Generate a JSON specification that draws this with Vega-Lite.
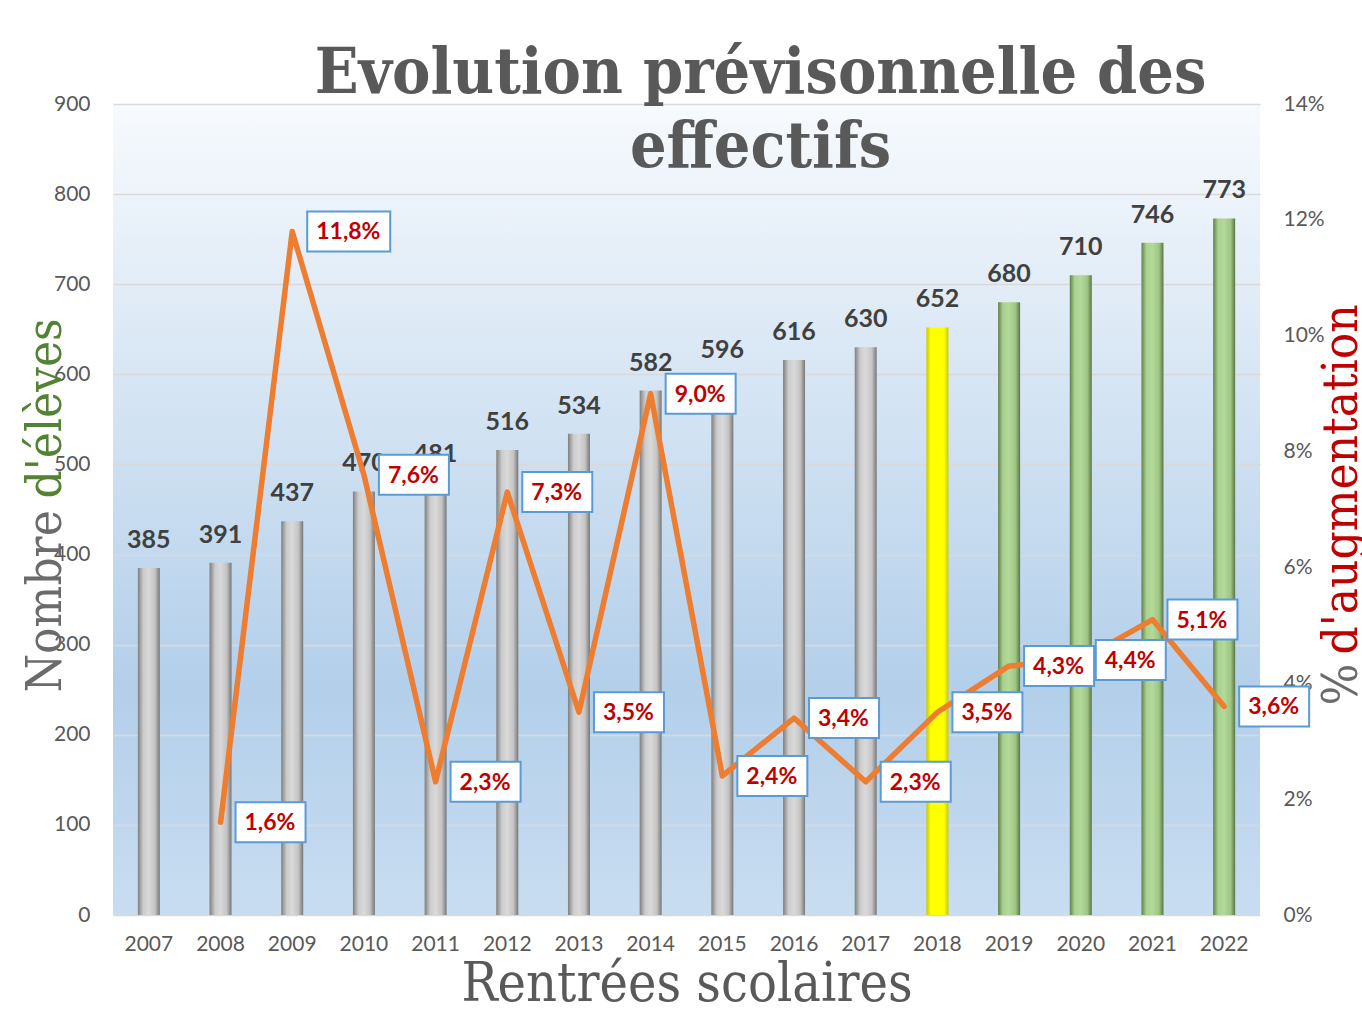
{
  "$schema": "https://vega.github.io/schema/vega-lite/v6.json",
  "autosize": "none",
  "width": 1147,
  "height": 811,
  "padding": {"left": 113, "top": 104, "right": 102, "bottom": 95},
  "background": "white",
  "config": {
    "locale": {"number": {"decimal": ",", "thousands": " ", "grouping": [3], "currency": ["", " €"]}},
    "view": {"stroke": null},
    "axis": {"labelFont": "Lato", "labelColor": "#595959", "labelFontSize": 21, "ticks": false, "domain": false}
  },
  "view": {
    "stroke": null,
    "fill": {"gradient": "linear", "x1": 0, "y1": 0, "x2": 0, "y2": 1,
      "stops": [{"offset": 0, "color": "#f7fafd"}, {"offset": 0.72, "color": "#b3cfea"}, {"offset": 1, "color": "#c8ddf1"}]}
  },
  "title": {
    "text": ["Evolution prévisonnelle des", "effectifs"],
    "font": "DejaVu Serif Condensed",
    "fontWeight": "bold",
    "fontSize": 64,
    "lineHeight": 74,
    "color": "#595959",
    "anchor": "middle",
    "offset": 0,
    "dx": 74,
    "dy": 87
  },
  "data": {"values": [
    {"year": 2007, "count": 385, "pct": null},
    {"year": 2008, "count": 391, "pct": 0.016},
    {"year": 2009, "count": 437, "pct": 0.118},
    {"year": 2010, "count": 470, "pct": 0.076},
    {"year": 2011, "count": 481, "pct": 0.023},
    {"year": 2012, "count": 516, "pct": 0.073},
    {"year": 2013, "count": 534, "pct": 0.035},
    {"year": 2014, "count": 582, "pct": 0.090},
    {"year": 2015, "count": 596, "pct": 0.024},
    {"year": 2016, "count": 616, "pct": 0.034},
    {"year": 2017, "count": 630, "pct": 0.023},
    {"year": 2018, "count": 652, "pct": 0.035},
    {"year": 2019, "count": 680, "pct": 0.043},
    {"year": 2020, "count": 710, "pct": 0.044},
    {"year": 2021, "count": 746, "pct": 0.051},
    {"year": 2022, "count": 773, "pct": 0.036}
  ]},
  "encoding": {
    "x": {
      "field": "year", "type": "ordinal",
      "scale": {"paddingInner": 0, "paddingOuter": 0},
      "axis": {
        "labelAngle": 0, "labelPadding": 18, "grid": false,
        "title": "Rentrées scolaires",
        "titleFont": "DejaVu Serif Condensed", "titleFontWeight": "normal", "titleFontSize": 53.5,
        "titleColor": "#595959", "titleBaseline": "alphabetic", "titleY": 85
      }
    }
  },
  "layer": [
    {
      "transform": [{"filter": "datum.year <= 2017"}],
      "mark": {"type": "bar", "size": 22,
        "color": {"gradient": "linear", "x1": 0, "y1": 0, "x2": 1, "y2": 0,
          "stops": [{"offset": 0, "color": "#7f7f7f"}, {"offset": 0.25, "color": "#cccccc"}, {"offset": 0.5, "color": "#d9d9d9"}, {"offset": 0.78, "color": "#c4c4c4"}, {"offset": 1, "color": "#777777"}]}},
      "encoding": {
        "y": {
          "field": "count", "type": "quantitative",
          "scale": {"domain": [0, 900]},
          "axis": {
            "orient": "left", "values": [0, 100, 200, 300, 400, 500, 600, 700, 800, 900],
            "grid": true, "gridColor": "#d9d9d9", "gridWidth": 1.5, "labelPadding": 23,
            "title": "d'élèves", "titleColor": "#548235",
            "titleFont": "DejaVu Serif Condensed", "titleFontWeight": "normal", "titleFontSize": 49,
            "titleAngle": -90, "titleAlign": "left", "titleBaseline": "alphabetic",
            "titleX": -53, "titleY": 394
          }
        }
      }
    },
    {
      "transform": [{"filter": "datum.year == 2018"}],
      "mark": {"type": "bar", "size": 22,
        "color": {"gradient": "linear", "x1": 0, "y1": 0, "x2": 1, "y2": 0,
          "stops": [{"offset": 0, "color": "#c9c900"}, {"offset": 0.2, "color": "#ffff00"}, {"offset": 0.8, "color": "#ffff00"}, {"offset": 1, "color": "#c9c900"}]}},
      "encoding": {
        "y": {"field": "count", "type": "quantitative", "scale": {"domain": [0, 900]}, "axis": null}
      }
    },
    {
      "transform": [{"filter": "datum.year >= 2019"}],
      "mark": {"type": "bar", "size": 22,
        "color": {"gradient": "linear", "x1": 0, "y1": 0, "x2": 1, "y2": 0,
          "stops": [{"offset": 0, "color": "#637f4c"}, {"offset": 0.22, "color": "#a9d18e"}, {"offset": 0.5, "color": "#b4d99b"}, {"offset": 0.8, "color": "#9dc582"}, {"offset": 1, "color": "#5a7445"}]}},
      "encoding": {
        "y": {"field": "count", "type": "quantitative", "scale": {"domain": [0, 900]}, "axis": null}
      }
    },
    {
      "mark": {"type": "text", "font": "Lato", "fontWeight": "bold", "fontSize": 25, "color": "#404040", "baseline": "alphabetic", "dy": -20},
      "encoding": {
        "y": {
          "field": "count", "type": "quantitative", "scale": {"domain": [0, 900]},
          "axis": {
            "orient": "left", "labels": false, "grid": false,
            "title": "Nombre", "titleColor": "#6b6b6b",
            "titleFont": "DejaVu Serif Condensed", "titleFontWeight": "normal", "titleFontSize": 49,
            "titleAngle": -90, "titleAlign": "left", "titleBaseline": "alphabetic",
            "titleX": -53, "titleY": 588
          }
        },
        "text": {"field": "count", "type": "quantitative"}
      }
    },
    {
      "mark": {"type": "line", "color": "#ed7d31", "strokeWidth": 5.5, "strokeJoin": "round", "strokeCap": "round"},
      "encoding": {
        "y": {
          "field": "pct", "type": "quantitative",
          "scale": {"domain": [0, 0.14]},
          "axis": {
            "orient": "right", "values": [0, 0.02, 0.04, 0.06, 0.08, 0.1, 0.12, 0.14], "format": ".0%",
            "grid": false, "labelPadding": 23,
            "title": "d'augmentation", "titleColor": "#c00000",
            "titleFont": "DejaVu Serif Condensed", "titleFontWeight": "normal", "titleFontSize": 49,
            "titleAngle": -90, "titleAlign": "left", "titleBaseline": "alphabetic",
            "titleX": 96, "titleY": 550
          }
        }
      }
    },
    {
      "transform": [{"filter": "datum.pct != null"}],
      "mark": {"type": "point", "filled": true, "fill": "white", "stroke": "#5b9bd5", "strokeWidth": 2, "opacity": 1, "size": 40000},
      "encoding": {
        "y": {
          "field": "pct", "type": "quantitative", "scale": {"domain": [0, 0.14]},
          "axis": {
            "orient": "right", "labels": false, "grid": false,
            "title": "%", "titleColor": "#6b6b6b",
            "titleFont": "DejaVu Serif Condensed", "titleFontWeight": "normal", "titleFontSize": 49,
            "titleAngle": -90, "titleAlign": "left", "titleBaseline": "alphabetic",
            "titleX": 96, "titleY": 601
          }
        },
        "shape": {
          "condition": {"test": "datum.pct >= 0.1", "value": "M0.15,-0.2H0.98V0.2H0.15Z"},
          "value": "M0.15,-0.2H0.85V0.2H0.15Z"
        }
      }
    },
    {
      "transform": [{"filter": "datum.pct != null"}],
      "mark": {"type": "text", "font": "Lato", "fontWeight": "bold", "fontSize": 23, "color": "#c00000", "align": "left", "baseline": "alphabetic", "dx": 24, "dy": 8},
      "encoding": {
        "y": {"field": "pct", "type": "quantitative", "scale": {"domain": [0, 0.14]}, "axis": null},
        "text": {"field": "pct", "type": "quantitative", "format": ".1%"}
      }
    }
  ],
  "resolve": {"scale": {"y": "independent"}, "axis": {"y": "independent"}}
}
